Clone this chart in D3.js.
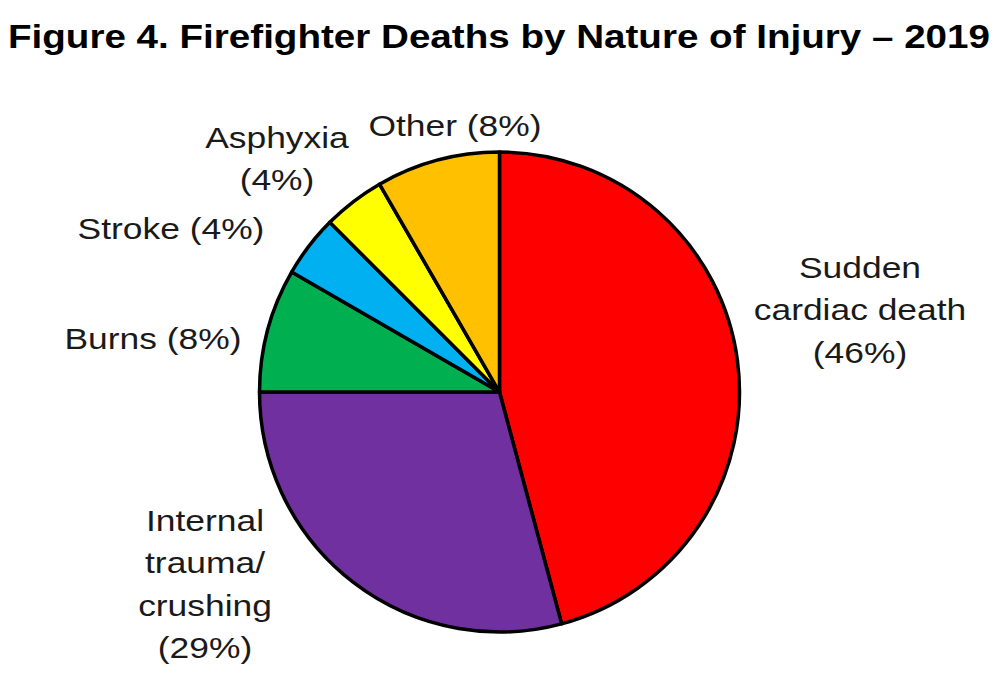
<!DOCTYPE html>
<html lang="en">
<head>
<meta charset="UTF-8">
<script src="https://cdn.jsdelivr.net/npm/d3@7"></script>
<style>
  body { margin: 0; background: #fff; }
  text { font-family: "Liberation Sans", Arial, sans-serif; fill: #1a1a1a; }
</style>
</head>
<body>
<div id="chart"></div>
<script>
// deaths in 2019 by nature of injury (48 total)
const categories = ["Sudden cardiac death", "Internal trauma/crushing", "Burns", "Stroke", "Asphyxia", "Other"];
const deaths = [22, 14, 4, 2, 2, 4];
const percents = ["46%", "29%", "8%", "4%", "4%", "8%"];
const colors = ["#ff0000", "#7030a0", "#00b050", "#00b0f0", "#ffff00", "#ffc000"];
// label text lines, one list per slice
const labelLines = [
  ["Sudden", "cardiac death", "(46%)"],
  ["Internal", "trauma/", "crushing", "(29%)"],
  ["Burns (8%)"],
  ["Stroke (4%)"],
  ["Asphyxia", "(4%)"],
  ["Other (8%)"]
];
const labelPos = [[860, 278], [205, 531], [153, 349], [171, 239], [277, 148], [455, 136]];

const width = 1000, height = 681;
const cx = 499.5, cy = 392, r = 240;

const svg = d3.select("#chart").append("svg")
  .attr("width", width).attr("height", height);

svg.append("text")
  .attr("x", 8).attr("y", 48)
  .attr("textLength", 982)
  .attr("lengthAdjust", "spacingAndGlyphs")
  .style("font-size", "34px").style("font-weight", "bold").style("fill", "#000")
  .text("Figure 4. Firefighter Deaths by Nature of Injury \u2013 2019");

const pie = d3.pie().sort(null).value(d => d);
const arc = d3.arc().innerRadius(0).outerRadius(r);

svg.append("g")
  .attr("transform", `translate(${cx},${cy})`)
  .selectAll("path")
  .data(pie(deaths))
  .join("path")
  .attr("d", arc)
  .attr("fill", (d, i) => colors[i])
  .attr("stroke", "#000")
  .attr("stroke-width", 3.5)
  .attr("stroke-linejoin", "round");

const labels = svg.append("g").selectAll("g")
  .data(labelLines)
  .join("g")
  .attr("transform", (d, i) => `translate(${labelPos[i][0]},${labelPos[i][1]}) scale(1.18,1)`);

labels.selectAll("text")
  .data(d => d)
  .join("text")
  .attr("text-anchor", "middle")
  .attr("y", (d, j) => j * 42.5)
  .style("font-size", "30px")
  .text(d => d);
</script>
</body>
</html>
